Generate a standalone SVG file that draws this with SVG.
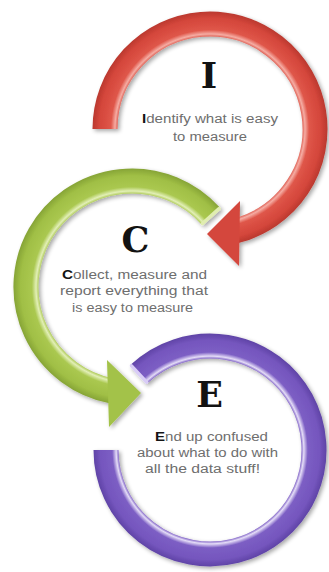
<svg xmlns="http://www.w3.org/2000/svg" width="329" height="572" viewBox="0 0 329 572">
  <style>
    .band { fill: none; stroke-width: 25; stroke-linecap: butt; }
    .big { font-family: "DejaVu Serif", "Liberation Serif", serif; font-weight: bold; font-size: 35px; fill: #121212; text-anchor: middle; }
    .body { font-family: "Liberation Sans", Arial, sans-serif; font-size: 12px; fill: #6e6e6e; text-anchor: middle; }
    .lead { fill: #141414; font-weight: bold; }
    .endcap { fill: none; stroke-width: 3.5; stroke-linecap: round; }
  </style>
  <defs>
    <filter id="soft" x="-20%" y="-20%" width="140%" height="140%">
      <feGaussianBlur in="SourceAlpha" stdDeviation="2"/>
      <feOffset dx="1.5" dy="2" result="b"/>
      <feComponentTransfer><feFuncA type="linear" slope="0.35"/></feComponentTransfer>
      <feMerge><feMergeNode/><feMergeNode in="SourceGraphic"/></feMerge>
    </filter>
    <!-- tube shading across each ring band -->
    <radialGradient id="redTube" gradientUnits="userSpaceOnUse" cx="210" cy="129" r="118">
      <stop offset="0" stop-color="#e26a5f"/>
      <stop offset="0.784" stop-color="#e06458"/>
      <stop offset="0.805" stop-color="#f5aca3"/>
      <stop offset="0.84" stop-color="#df5649"/>
      <stop offset="0.94" stop-color="#d4463b"/>
      <stop offset="1" stop-color="#b8372d"/>
    </radialGradient>
    <radialGradient id="greenTube" gradientUnits="userSpaceOnUse" cx="132" cy="287" r="118.5">
      <stop offset="0" stop-color="#b5d064"/>
      <stop offset="0.789" stop-color="#b2cd5f"/>
      <stop offset="0.81" stop-color="#e2efb6"/>
      <stop offset="0.845" stop-color="#aac850"/>
      <stop offset="0.94" stop-color="#a0bf45"/>
      <stop offset="1" stop-color="#86a436"/>
    </radialGradient>
    <radialGradient id="purpleTube" gradientUnits="userSpaceOnUse" cx="210" cy="450" r="116.5">
      <stop offset="0" stop-color="#8b70cc"/>
      <stop offset="0.785" stop-color="#8669c9"/>
      <stop offset="0.805" stop-color="#e4dcf7"/>
      <stop offset="0.84" stop-color="#7c5ec4"/>
      <stop offset="0.94" stop-color="#7556be"/>
      <stop offset="1" stop-color="#5f43a6"/>
    </radialGradient>
  </defs>

  <rect width="329" height="572" fill="#ffffff"/>

  <!-- circular arrows linking the three stages -->
  <g id="connectors">
    <g id="arrow-e" filter="url(#soft)">
      <path class="band" stroke="url(#purpleTube)" d="M139.1,373.9 A104,104 0 1 1 106,450"/>
      <line class="endcap" stroke="#d9cdf6" x1="146.6" y1="382.1" x2="131.5" y2="365.9"/>
    </g>
    <g id="arrow-c" filter="url(#soft)">
      <path class="band" stroke="url(#greenTube)" d="M210.8,216.1 A106,106 0 1 0 111.8,391"/>
      <polygon fill="#a3c248" points="107,360 141,393 109,427"/>
      <line class="endcap" stroke="#e0edb0" x1="202.5" y1="223.5" x2="219.1" y2="208.6"/>
    </g>
    <g id="arrow-i" filter="url(#soft)">
      <path class="band" stroke="url(#redTube)" d="M105,129 A105,105 0 1 1 235.4,230.9"/>
      <polygon fill="#d4473c" points="240,201 207,234 239,266"/>
    </g>
  </g>

  <g id="node-i">
    <text class="big" x="209" y="88">I</text>
    <text class="body" x="210" y="123" textLength="136" lengthAdjust="spacingAndGlyphs"><tspan class="lead">I</tspan>dentify what is easy</text>
    <text class="body" x="210" y="141" textLength="74" lengthAdjust="spacingAndGlyphs">to measure</text>
  </g>

  <g id="node-c">
    <text class="big" x="135.5" y="252">C</text>
    <text class="body" x="134.5" y="279" textLength="145" lengthAdjust="spacingAndGlyphs"><tspan class="lead">C</tspan>ollect, measure and</text>
    <text class="body" x="134" y="295" textLength="148" lengthAdjust="spacingAndGlyphs">report everything that</text>
    <text class="body" x="132.5" y="312" textLength="121" lengthAdjust="spacingAndGlyphs">is easy to measure</text>
  </g>

  <g id="node-e">
    <text class="big" x="209.5" y="407">E</text>
    <text class="body" x="211.5" y="441" textLength="113" lengthAdjust="spacingAndGlyphs"><tspan class="lead">E</tspan>nd up confused</text>
    <text class="body" x="207.5" y="457" textLength="141" lengthAdjust="spacingAndGlyphs">about what to do with</text>
    <text class="body" x="202.5" y="473" textLength="115" lengthAdjust="spacingAndGlyphs">all the data stuff!</text>
  </g>
</svg>
